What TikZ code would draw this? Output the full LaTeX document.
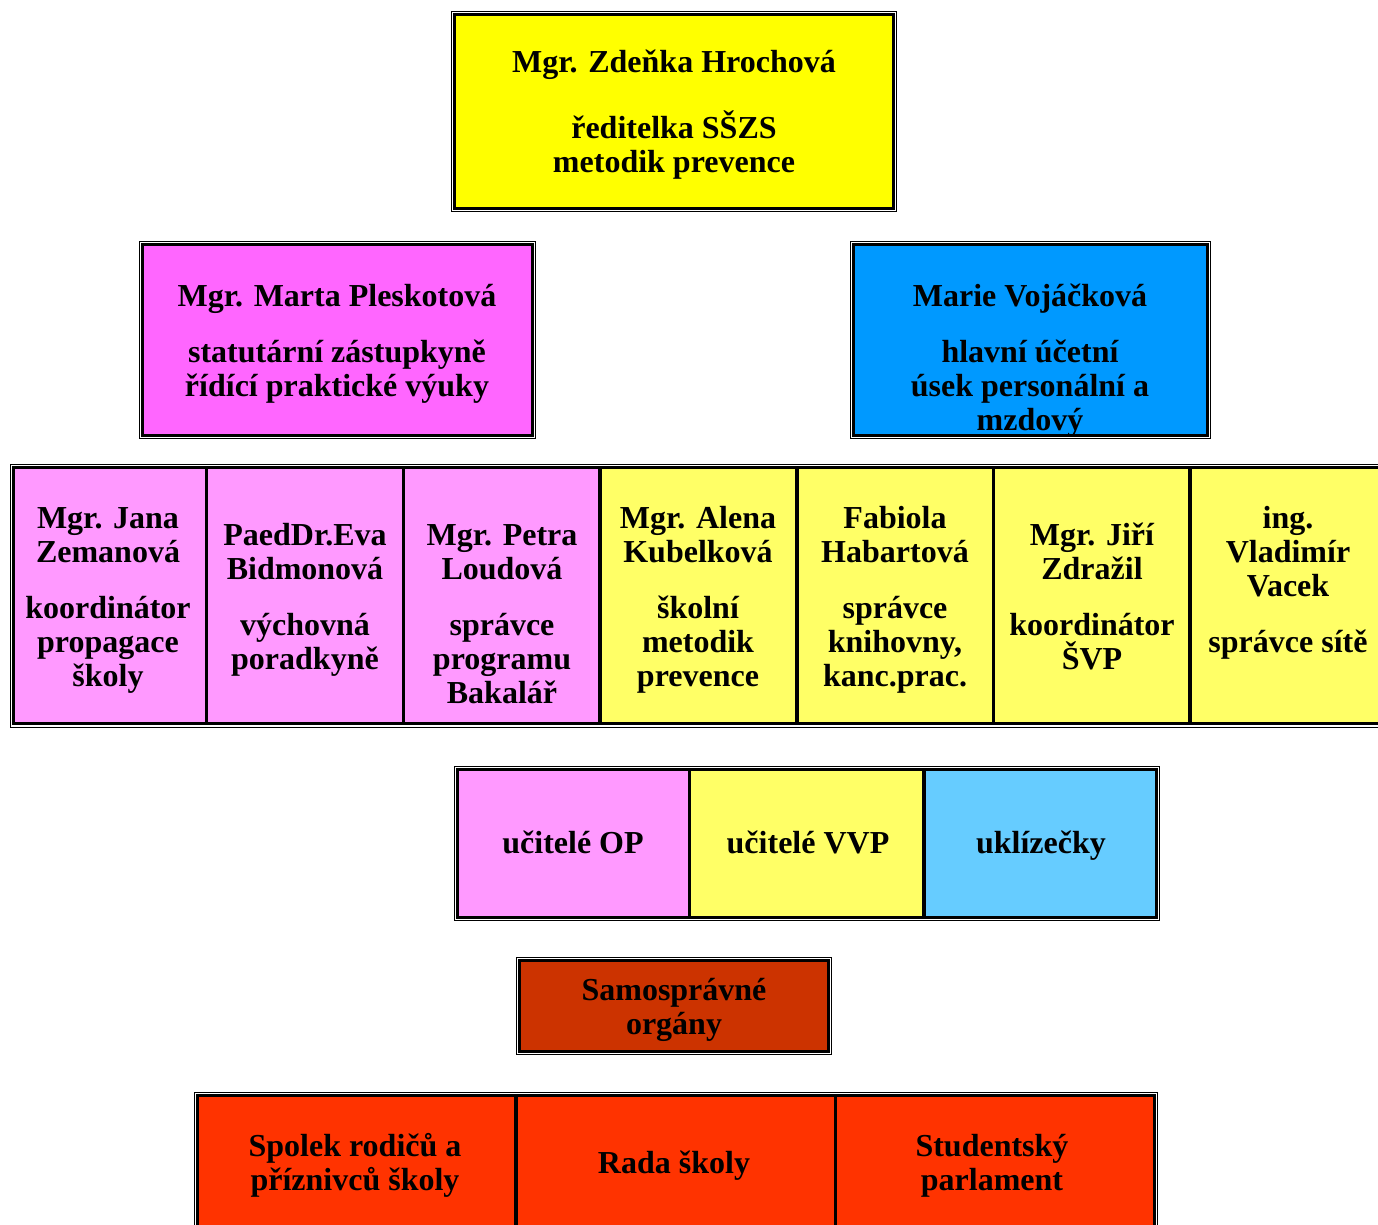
\documentclass[tikz,border=0pt]{standalone}
\usepackage{fontspec}
\setmainfont{Liberation Serif}
\definecolor{yellowA}{HTML}{FFFF00}
\definecolor{magA}{HTML}{FF66FF}
\definecolor{blueA}{HTML}{0099FF}
\definecolor{pinkB}{HTML}{FF99FF}
\definecolor{yellowB}{HTML}{FFFF66}
\definecolor{blueC}{HTML}{66CCFF}
\definecolor{rustD}{HTML}{CC3300}
\definecolor{redE}{HTML}{FF3300}
\lineskiplimit=-30pt
\tikzset{
  cellbox/.style={draw=black, line width=3.2pt, rectangle, inner sep=0pt, outer sep=0pt},
  thinframe/.style={draw=black, line width=1pt},
  txt/.style={font=\bfseries\fontsize{32}{34}\selectfont, align=center, inner sep=0pt, anchor=north, text=black, yshift=-1.5pt}
}
\begin{document}
\begin{tikzpicture}[x=1pt,y=-1pt]
\useasboundingbox (0,0) rectangle (1378,1225);
\clip (0,0) rectangle (1378,1225);
\fill[white] (0,0) rectangle (1378,1225);

% top director box
\draw[thinframe] (451.5,11.5) rectangle (896.5,211.5);
\node[cellbox, fill=yellowA, minimum width=439pt, minimum height=194pt] (dir) at (674,111.5) {};
\node[txt] (dirT) at (674,47) {\strut Mgr. Zdeňka Hrochová\\[32pt]ředitelka SŠZS\\metodik prevence};

% deputy box
\draw[thinframe] (139.5,241.5) rectangle (535.5,438.5);
\node[cellbox, fill=magA, minimum width=390pt, minimum height=191pt] (dep) at (337.5,340) {};
\node[txt] (depT) at (337,281) {\strut Mgr. Marta Pleskotová\\[22pt]statutární zástupkyně\\řídící praktické výuky};

% accountant box
\draw[thinframe] (850.5,241.5) rectangle (1210.5,438.5);
\node[cellbox, fill=blueA, minimum width=354pt, minimum height=191pt] (acc) at (1030.5,340) {};
\node[txt] (accT) at (1030,281) {\strut Marie Vojáčková\\[22pt]hlavní účetní\\úsek personální a\\mzdový};

% row of seven
\draw[thinframe] (10.5,464.5) rectangle (1394.5,727.5);
\node[cellbox, fill=pinkB, minimum width=193pt, minimum height=256pt] (c1) at (110,595.5) {};
\node[cellbox, fill=pinkB, minimum width=197pt, minimum height=256pt] (c2) at (305,595.5) {};
\node[cellbox, fill=pinkB, minimum width=196.5pt, minimum height=256pt] (c3) at (501.75,595.5) {};
\node[cellbox, fill=yellowB, minimum width=197pt, minimum height=256pt] (c4) at (698.5,595.5) {};
\node[cellbox, fill=yellowB, minimum width=196.5pt, minimum height=256pt] (c5) at (895.25,595.5) {};
\node[cellbox, fill=yellowB, minimum width=196.5pt, minimum height=256pt] (c6) at (1091.75,595.5) {};
\node[cellbox, fill=yellowB, minimum width=197pt, minimum height=256pt] (c7) at (1288.5,595.5) {};
\node[txt] (c1T) at (108,503) {\strut Mgr. Jana\\Zemanová\\[22pt]koordinátor\\propagace\\školy};
\node[txt] (c2T) at (305,520) {\strut PaedDr.Eva\\Bidmonová\\[22pt]výchovná\\poradkyně};
\node[txt] (c3T) at (502,520) {\strut Mgr. Petra\\Loudová\\[22pt]správce\\programu\\Bakalář};
\node[txt] (c4T) at (698,503) {\strut Mgr. Alena\\Kubelková\\[22pt]školní\\metodik\\prevence};
\node[txt] (c5T) at (895,503) {\strut Fabiola\\Habartová\\[22pt]správce\\knihovny,\\kanc.prac.};
\node[txt] (c6T) at (1092,520) {\strut Mgr. Jiří\\Zdražil\\[22pt]koordinátor\\ŠVP};
\node[txt] (c7T) at (1288,503) {\strut ing.\\Vladimír\\Vacek\\[22pt]správce sítě};

% lower row of three
\draw[thinframe] (454.5,766.5) rectangle (1159.5,920.5);
\node[cellbox, fill=pinkB, minimum width=232pt, minimum height=148pt] (l1) at (573.5,843.5) {};
\node[cellbox, fill=yellowB, minimum width=234.5pt, minimum height=148pt] (l2) at (806.75,843.5) {};
\node[cellbox, fill=blueC, minimum width=232.5pt, minimum height=148pt] (l3) at (1040.25,843.5) {};
\node[txt] (l1T) at (573,828) {\strut učitelé OP};
\node[txt] (l2T) at (808,828) {\strut učitelé VVP};
\node[txt] (l3T) at (1041,828) {\strut uklízečky};

% self-government box
\draw[thinframe] (516.5,957.5) rectangle (831.5,1054.5);
\node[cellbox, fill=rustD, minimum width=309pt, minimum height=91pt] (sam) at (674,1006) {};
\node[txt] (samT) at (674,975) {\strut Samosprávné\\orgány};

% bottom row
\draw[thinframe] (194.5,1092.5) rectangle (1157.5,1245);
\node[cellbox, fill=redE, minimum width=318.5pt, minimum height=145pt] (b1) at (356.75,1168) {};
\node[cellbox, fill=redE, minimum width=319.5pt, minimum height=145pt] (b2) at (675.75,1168) {};
\node[cellbox, fill=redE, minimum width=319pt, minimum height=145pt] (b3) at (995,1168) {};
\node[txt] (b1T) at (355,1131) {\strut Spolek rodičů a\\příznivců školy};
\node[txt] (b2T) at (674,1148) {\strut Rada školy};
\node[txt] (b3T) at (992,1131) {\strut Studentský\\parlament};
\end{tikzpicture}
\end{document}
